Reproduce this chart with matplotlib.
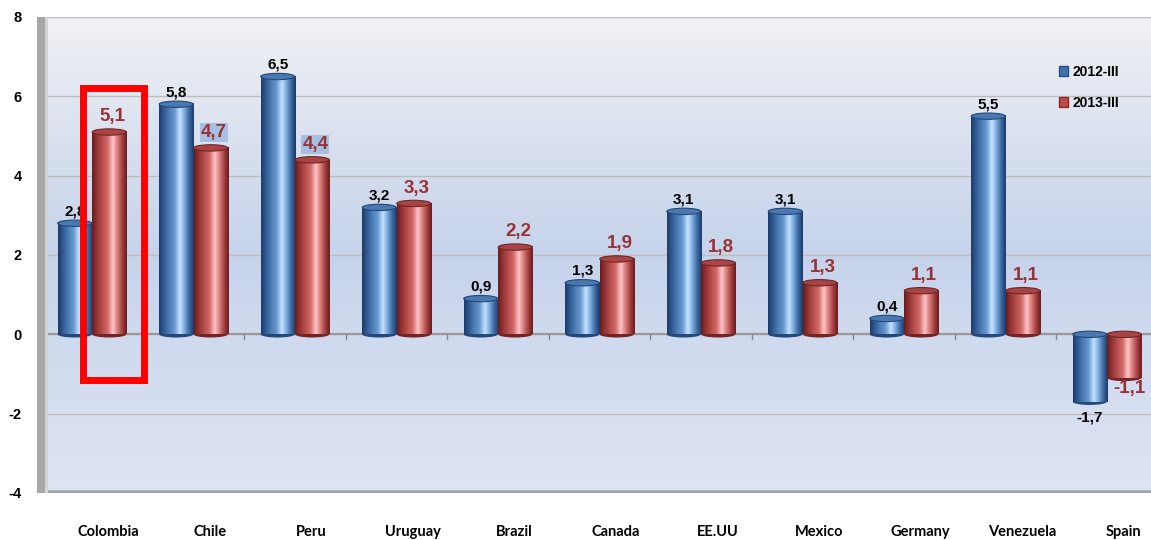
import numpy as np
import matplotlib.pyplot as plt
from matplotlib.colors import LinearSegmentedColormap
from matplotlib.patches import Ellipse, Rectangle, Patch

# datos del grafico
countries = ['Colombia', 'Chile', 'Peru', 'Uruguay', 'Brazil', 'Canada',
             'EE.UU', 'Mexico', 'Germany', 'Venezuela', 'Spain']
q2012 = [2.8, 5.8, 6.5, 3.2, 0.9, 1.3, 3.1, 3.1, 0.4, 5.5, -1.7]
q2013 = [5.1, 4.7, 4.4, 3.3, 2.2, 1.9, 1.8, 1.3, 1.1, 1.1, -1.1]
series_names = ['2012-III', '2013-III']
yticks = [-4, -2, 0, 2, 4, 6, 8]
boxed = 'Colombia'
highlighted = ['Chile', 'Peru']

fig = plt.figure(figsize=(11.51, 5.4), dpi=100)
ax = fig.add_axes([48 / 1151, 47 / 540, 1103 / 1151, 476 / 540])

xlim = (-0.433, 10.433)
ylim = (-4, 8)

# fondo con degradado vertical
bg = LinearSegmentedColormap.from_list('bg', [
    (0.0, '#dde4f2'), (0.35, '#cfd9ee'), (0.5, '#c6d3eb'),
    (0.7, '#d6deee'), (1.0, '#f0f1f4')])
ax.imshow(np.linspace(0, 1, 256).reshape(-1, 1), cmap=bg, origin='lower',
          extent=[xlim[0], xlim[1], ylim[0], ylim[1]], aspect='auto', zorder=0)

for t in yticks[1:]:
    ax.axhline(t, color='#bdbdbd', lw=1, zorder=1)
ax.axhline(0, color='#9a9a9a', lw=1.6, zorder=1)
ax.axhline(-4, color='#a3a3a3', lw=4, zorder=1)
for i in range(len(countries) - 1):
    ax.plot([i + 0.5, i + 0.5], [0, -0.12], color='#888888', lw=1, zorder=1)

blue_cm = LinearSegmentedColormap.from_list('b', [
    (0.0, '#1d3b68'), (0.15, '#335f98'), (0.45, '#6a9ad2'), (0.6, '#c4e2ff'),
    (0.7, '#8cb9e8'), (0.88, '#3a66a0'), (1.0, '#1d3b68')])
red_cm = LinearSegmentedColormap.from_list('r', [
    (0.0, '#6a1d1d'), (0.15, '#993636'), (0.45, '#d46a6a'), (0.6, '#ffc6c6'),
    (0.7, '#e38b8b'), (0.88, '#a03c3c'), (1.0, '#6a1d1d')])

w = 0.335
cap = 0.16
grad = np.linspace(0, 1, 64).reshape(1, -1)


def cylinder(x, v, cm, top_col, edge_col):
    lo, hi = min(0, v), max(0, v)
    # base redondeada
    ax.add_patch(Ellipse((x, lo), w, cap, facecolor=edge_col, edgecolor='none', zorder=2))
    ax.imshow(grad, cmap=cm, extent=[x - w / 2, x + w / 2, lo, hi],
              aspect='auto', zorder=3)
    ax.add_patch(Ellipse((x, hi), w, cap, facecolor=top_col, edgecolor=edge_col,
                         lw=0.8, zorder=4))


def fmt(v):
    return f'{v:.1f}'.replace('.', ',')


red_txt = '#983236'
for i, c in enumerate(countries):
    xb, xr = i - 0.17, i + 0.17
    cylinder(xb, q2012[i], blue_cm, '#4a78b0', '#24487a')
    cylinder(xr, q2013[i], red_cm, '#a84444', '#742424')

    vb, vr = q2012[i], q2013[i]
    yb = vb + 0.3 if vb >= 0 else vb - 0.39
    ax.text(xb, yb, fmt(vb), ha='center', va='center', fontsize=11,
            fontweight='bold', family='Liberation Sans', color='black', zorder=6)
    box = None
    if c in highlighted:
        box = dict(boxstyle='square,pad=0.05', facecolor='#a7bfe0', edgecolor='none')
    if vr >= 0:
        ax.text(xr + 0.03, vr + 0.38, fmt(vr), ha='center', va='center', fontsize=13.5,
                fontweight='bold', family='Liberation Sans', color=red_txt,
                bbox=box, zorder=6)
    else:
        ax.text(xr + 0.05, vr - 0.27, fmt(vr), ha='center', va='center', fontsize=13.5,
                fontweight='bold', family='Liberation Sans', color=red_txt, zorder=6)

# recuadro rojo
k = countries.index(boxed)
ax.add_patch(Rectangle((k - 0.089, -1.15), 0.606, 7.37, fill=False,
                       edgecolor='#ff0000', lw=5, zorder=7, clip_on=False))

ax.set_xlim(xlim)
ax.set_ylim(ylim)
ax.set_yticks(yticks)
ax.set_yticklabels([str(t) for t in yticks], fontsize=10.5, fontweight='bold',
                   family='Liberation Sans')
ax.set_xticks(np.arange(len(countries)) + 0.16)
ax.set_xticklabels(countries, fontsize=10.5, fontweight='bold', family='Lato')
ax.tick_params(axis='y', length=0, pad=19)
ax.tick_params(axis='x', length=0, pad=23)
for s in ax.spines.values():
    s.set_visible(False)

# pared izquierda gris
fig.patches.append(Rectangle((37 / 1151, 47 / 540), 11 / 1151, 476 / 540,
                             transform=fig.transFigure, facecolor='#a8a8a8',
                             edgecolor='none', zorder=0))
fig.patches.append(Rectangle((45 / 1151, 47 / 540), 3 / 1151, 476 / 540,
                             transform=fig.transFigure, facecolor='#d4d4d4',
                             edgecolor='none', zorder=0))

handles = [Patch(facecolor='#3f70b0', edgecolor='#2a4d80'),
           Patch(facecolor='#c04848', edgecolor='#8a2a2a')]
leg = ax.legend(handles, series_names, loc='upper left', bbox_to_anchor=(0.905, 0.925),
                frameon=False, prop={'family': 'Liberation Sans', 'weight': 'bold', 'size': 10},
                handlelength=0.7, handleheight=0.7, handletextpad=0.3, labelspacing=1.2)

fig.savefig('out.png', dpi=100)
